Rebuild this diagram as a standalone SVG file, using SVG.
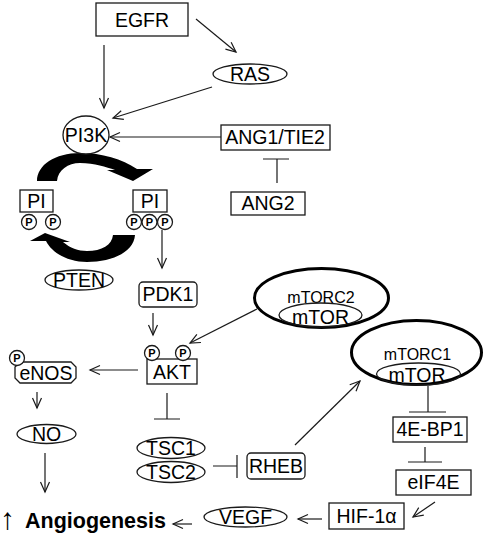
<svg xmlns="http://www.w3.org/2000/svg" width="490" height="539" viewBox="0 0 490 539">
<style>
  .bx{fill:#fff;stroke:#1a1a1a;stroke-width:1.3}
  .ol{fill:none;stroke:#1a1a1a;stroke-width:1.3}
  .thick{fill:#fff;stroke:#000;stroke-width:3}
  .t{font-family:"Liberation Sans",Arial,sans-serif;font-size:19.5px;fill:#000;text-anchor:middle}
  .ts{font-family:"Liberation Sans",Arial,sans-serif;font-size:16px;fill:#000;text-anchor:middle}
  .pc{fill:#fff;stroke:#1a1a1a;stroke-width:1.3}
  .pt{font-family:"Liberation Sans",Arial,sans-serif;font-size:11px;font-weight:bold;fill:#000;text-anchor:middle}
  .ln{fill:none;stroke:#1a1a1a;stroke-width:1.2}
  .ar{fill:none;stroke:#1a1a1a;stroke-width:1.2;marker-end:url(#ah)}
  .blk{fill:#000;stroke:none}
</style>
<defs>
  <marker id="ah" viewBox="-12 -7 14 14" refX="0" refY="0" markerWidth="14" markerHeight="14" markerUnits="userSpaceOnUse" orient="auto">
    <path d="M-10,-4.5 L0,0 L-10,4.5" fill="none" stroke="#1a1a1a" stroke-width="1.2"/>
  </marker>
  <g id="pcirc"><circle r="7.5" class="pc"/><text y="4" class="pt">P</text></g>
</defs>
<rect width="490" height="539" fill="#fff"/>

<g id="connectors">
  <line class="ar" x1="104" y1="45" x2="104" y2="108"/>
  <line class="ar" x1="196" y1="19" x2="236" y2="52"/>
  <line class="ar" x1="212" y1="87" x2="113" y2="118"/>
  <line class="ar" x1="221" y1="137" x2="110" y2="137"/>
  <path class="ln" d="M277,183 L277,159 M263,159 L289,159"/>
  <line class="ar" x1="162" y1="230" x2="162" y2="268"/>
  <line class="ar" x1="153" y1="313" x2="153" y2="335"/>
  <line class="ar" x1="257" y1="309" x2="190" y2="343"/>
  <line class="ar" x1="138" y1="370" x2="90" y2="370"/>
  <line class="ar" x1="37" y1="392" x2="37" y2="408"/>
  <line class="ar" x1="45" y1="453" x2="45" y2="492"/>
  <path class="ln" d="M167,393 L167,419 M154,419 L180,419"/>
  <path class="ln" d="M213,466 L237,466 M237,455 L237,478"/>
  <line class="ar" x1="295" y1="445" x2="360" y2="381"/>
  <path class="ln" d="M428,386 L428,412 M409,412 L446,412"/>
  <path class="ln" d="M425,447 L425,462 M408,462 L442,462"/>
  <line class="ar" x1="435" y1="502" x2="413" y2="517"/>
  <line class="ar" x1="322" y1="519" x2="298" y2="519"/>
  <line class="ar" x1="192" y1="524" x2="173" y2="524"/>
  <path id="cycle-top" class="blk" d="M37,181 L57,181 C58,170 68,163 80,163 C95,163 106,167 115,170 L107,170 L133,181 L153,169 L137,169 C122,159 102,153 80,153 C55,153 37,165 37,181 Z"/>
  <path id="cycle-bottom" class="blk" d="M113,235 L135,235 C134,252 112,262 87,262 C68,262 52,253 46,241 L30,241 L45,233 L70,242 L63,242 C70,248 78,251 87,251 C102,251 112,245 113,235 Z"/>
</g>

<g id="EGFR"><rect class="bx" x="96" y="3" width="92" height="33"/><text class="t" x="142" y="27">EGFR</text></g>
<g id="RAS"><ellipse class="bx" cx="250" cy="74" rx="37" ry="10"/><text class="t" x="250" y="81">RAS</text></g>
<g id="PI3K"><ellipse class="bx" cx="86" cy="135" rx="23" ry="19"/><text class="t" x="86" y="142">PI3K</text></g>
<g id="ANG1TIE2"><rect class="bx" x="221" y="125" width="109" height="25"/><text class="t" x="275" y="144">ANG1/TIE2</text></g>
<g id="ANG2"><rect class="bx" x="231" y="192" width="74" height="23"/><text class="t" x="268" y="210">ANG2</text></g>
<g id="PIP2"><rect class="bx" x="20" y="190" width="33" height="22"/><text class="t" x="36.5" y="208">PI</text>
  <use href="#pcirc" x="29" y="222"/><use href="#pcirc" x="53" y="222"/></g>
<g id="PIP3"><rect class="bx" x="133" y="190" width="34" height="22"/><text class="t" x="150" y="208">PI</text>
  <use href="#pcirc" x="134" y="222"/><use href="#pcirc" x="149.5" y="222"/><use href="#pcirc" x="165" y="222"/></g>
<g id="PTEN"><ellipse class="bx" cx="79" cy="280" rx="34" ry="10"/><text class="t" x="79" y="287">PTEN</text></g>
<g id="PDK1"><rect class="bx" x="139" y="282" width="58" height="25" rx="4"/><text class="t" x="168" y="301">PDK1</text></g>
<g id="mTORC2"><ellipse class="thick" cx="321.5" cy="298" rx="67" ry="29.5"/><text class="ts" x="321" y="303">mTORC2</text>
  <ellipse class="ol" cx="320.5" cy="315" rx="41.5" ry="12"/><text class="t" x="320.5" y="324">mTOR</text></g>
<g id="AKT"><rect class="bx" x="147" y="359" width="50" height="25"/><text class="t" x="172" y="379">AKT</text>
  <use href="#pcirc" x="152" y="353"/><use href="#pcirc" x="183" y="353"/></g>
<g id="eNOS"><path class="bx" d="M20,362 L71,362 L76,367 L76,378 L71,383 L20,383 L15,378 L15,367 Z"/><text class="t" x="46" y="380">eNOS</text>
  <use href="#pcirc" x="17" y="358"/></g>
<g id="NO"><ellipse class="bx" cx="46.5" cy="434" rx="29.5" ry="9.5"/><text class="t" x="46.5" y="441">NO</text></g>
<g id="mTORC1"><ellipse class="thick" cx="416.5" cy="352.5" rx="65" ry="32"/><text class="ts" x="417.5" y="360">mTORC1</text>
  <ellipse class="ol" cx="418.5" cy="374" rx="42" ry="11"/><text class="t" x="417" y="382">mTOR</text></g>
<g id="TSC1"><ellipse class="bx" cx="171" cy="448" rx="34" ry="10.5"/><text class="t" x="171" y="455">TSC1</text></g>
<g id="TSC2"><ellipse class="bx" cx="171" cy="472" rx="34" ry="10.5"/><text class="t" x="171" y="479">TSC2</text></g>
<g id="RHEB"><rect class="bx" x="247" y="453" width="58" height="26" rx="4"/><text class="t" x="276" y="473">RHEB</text></g>
<g id="4E-BP1"><rect class="bx" x="393" y="417" width="74" height="25"/><text class="t" x="430" y="436">4E-BP1</text></g>
<g id="eIF4E"><rect class="bx" x="396" y="470" width="75" height="25"/><text class="t" x="433.5" y="489">eIF4E</text></g>
<g id="HIF1a"><rect class="bx" x="329" y="503" width="75" height="26"/><text class="t" x="366.5" y="523">HIF-1α</text></g>
<g id="VEGF"><ellipse class="bx" cx="245.5" cy="517" rx="41.5" ry="10"/><text class="t" x="245.5" y="524">VEGF</text></g>
<g id="Angiogenesis"><text x="0" y="529" style="font-family:'Liberation Sans',Arial,sans-serif;font-size:21.5px;font-weight:bold;fill:#000"><tspan style="font-weight:normal;font-size:30px">↑</tspan><tspan x="25" y="528">Angiogenesis</tspan></text></g>
</svg>
